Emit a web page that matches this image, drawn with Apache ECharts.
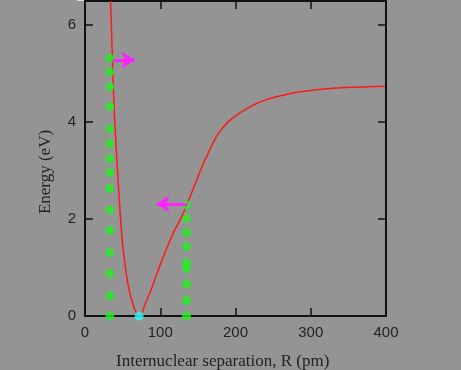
<!DOCTYPE html>
<html><head><meta charset="utf-8">
<script src="https://cdn.jsdelivr.net/npm/echarts@6/dist/echarts.min.js"></script>
<style>html,body{margin:0;padding:0;background:#949494;}#c{width:461px;height:370px;}</style>
</head><body><div id="c"></div>
<script>
// Potential energy curve
const curveR = [33.8, 35.1, 37.0, 39.5, 44.0, 49.1, 55.0, 59.0, 62.6, 67.0, 72.0, 76.0, 80.2, 86.0, 92.2, 100.0, 109.0, 118.0, 128.9, 135.0, 147.9, 156.0, 165.5, 172.0, 179.7, 190.0, 201.9, 214.0, 226.0, 240.0, 255.0, 270.0, 283.0, 308.0, 330.0, 352.0, 375.0, 398.5];
const curveE = [6.50, 5.99, 5.00, 4.03, 2.79, 1.62, 0.85, 0.52, 0.30, 0.10, 0.00, 0.07, 0.26, 0.47, 0.73, 1.06, 1.41, 1.74, 2.06, 2.29, 2.78, 3.10, 3.42, 3.63, 3.82, 4.00, 4.15, 4.27, 4.37, 4.46, 4.53, 4.58, 4.62, 4.67, 4.70, 4.72, 4.73, 4.74];
// Vibrational level dots
const leftDotR = 33;
const leftDotE = [5.32, 5.04, 4.73, 4.32, 3.86, 3.56, 3.25, 2.96, 2.63, 2.19, 1.77, 1.31, 0.88, 0.42, 0.0];
const rightDotR = 135;
const rightDotE = [2.29, 2.01, 1.72, 1.43, 1.10, 0.98, 0.66, 0.32, 0.0];
const minPoint = [72, 0];
// Arrows: [fromR, toR, E]
const arrowRight = [38, 66, 5.28];
const arrowLeft = [136, 95, 2.31];
const xTicks = [0, 100, 200, 300, 400];
const yTicks = [0, 2, 4, 6];

const chart = echarts.init(document.getElementById('c'), null, {renderer: 'canvas'});
const axisCommon = {
  axisLine: {show: true, onZero: false, lineStyle: {color: '#111', width: 2}},
  axisTick: {show: true, inside: true, length: 8, lineStyle: {color: '#111', width: 1.5}},
  splitLine: {show: false}
};
chart.setOption({
  backgroundColor: '#949494',
  animation: false,
  grid: {left: 85, right: 75, top: 1, bottom: 54},
  xAxis: [
    Object.assign({type: 'value', min: xTicks[0], max: xTicks[xTicks.length-1], interval: 100, position: 'bottom',
      axisLabel: {color: '#222', fontSize: 15, fontFamily: 'Liberation Sans', margin: 9}}, axisCommon),
    Object.assign({type: 'value', min: xTicks[0], max: xTicks[xTicks.length-1], interval: 100, position: 'top',
      axisLabel: {show: false}}, axisCommon)
  ],
  yAxis: [
    Object.assign({type: 'value', min: 0, max: 6.5, interval: 2, position: 'left',
      axisLabel: {color: '#222', fontSize: 15, fontFamily: 'Liberation Sans', margin: 9, showMaxLabel: false,
        formatter: v => (yTicks.indexOf(v) >= 0 ? String(v) : '')}}, axisCommon),
    Object.assign({type: 'value', min: 0, max: 6.5, interval: 2, position: 'right',
      axisLabel: {show: false}}, axisCommon)
  ],
  graphic: [
    {type: 'text', left: 116, top: 353, style: {text: 'Internuclear separation, R (pm)', fill: '#222', font: '17px "Liberation Serif"'}},
    {type: 'text', x: 46, y: 172, rotation: Math.PI/2, style: {text: 'Energy (eV)', fill: '#222', font: '17px "Liberation Serif"', align: 'center', verticalAlign: 'middle'}},
    {type: 'rect', shape: {x: 77, y: 0, width: 43, height: 1}, style: {fill: '#dcdcdc'}}
  ],
  series: [
    {type: 'line', data: curveR.map((r, i) => [r, curveE[i]]), smooth: 0.25, showSymbol: false,
      lineStyle: {color: '#ff1a1a', width: 1.5}, clip: true, z: 2},
    {type: 'scatter', data: leftDotE.map(e => [leftDotR, e]), symbolSize: 9,
      itemStyle: {color: '#22ee22'}, z: 3, clip: false},
    {type: 'scatter', data: rightDotE.map(e => [rightDotR, e]), symbolSize: 9,
      itemStyle: {color: '#22ee22'}, z: 3, clip: false},
    {type: 'scatter', data: [minPoint], symbolSize: 9, itemStyle: {color: '#22ffff'}, z: 4, clip: false},
    {type: 'scatter', data: [], z: 5,
      markLine: {silent: true, symbol: ['none', 'arrow'], symbolSize: [13, 13], animation: false,
        label: {show: false}, lineStyle: {color: '#ff22ff', width: 3, type: 'solid'},
        emphasis: {disabled: true},
        data: [
          [{coord: [arrowRight[0], arrowRight[2]]}, {coord: [arrowRight[1], arrowRight[2]]}],
          [{coord: [arrowLeft[0], arrowLeft[2]]}, {coord: [arrowLeft[1], arrowLeft[2]]}]
        ]}}
  ]
});
</script></body></html>
